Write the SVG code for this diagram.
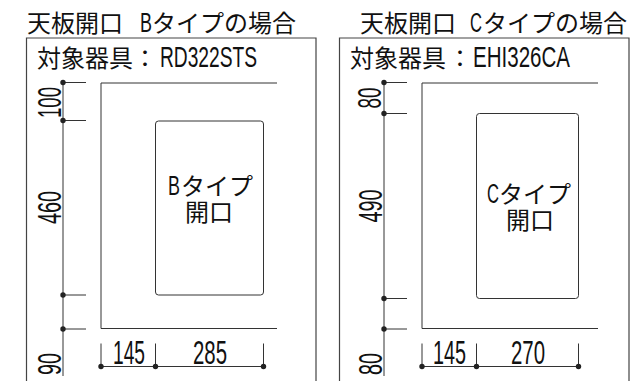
<svg xmlns="http://www.w3.org/2000/svg" width="635" height="381" viewBox="0 0 635 381">
<style>
.l{fill:none;stroke:#333;stroke-width:1}
.f{fill:none;stroke:#444;stroke-width:1.2}
.d{fill:#222;stroke:none}
text{fill:#111;font-family:"Noto Sans CJK JP","Liberation Sans",sans-serif;font-size:24px;font-weight:400}
.n{font-family:"Liberation Sans",sans-serif;font-size:34px;font-weight:400}
.a{font-family:"Liberation Sans",sans-serif;font-weight:400;font-size:27px}
.m{font-size:30px}
</style>
<rect width="635" height="381" fill="#fff"/>
<defs><circle id="dot" class="d" r="2.7"/></defs>
<g id="panel-b">
<text x="27" y="32" id="title-b">天板開口 <tspan class="a" x="140" y="32" textLength="12" lengthAdjust="spacingAndGlyphs">B</tspan><tspan x="152" y="32">タイプの場合</tspan></text>
<path class="f" d="M26.5 381V38H316V381"/>
<text x="37" y="67" id="device-b">対象器具<tspan x="133" y="67">：</tspan><tspan class="a m" x="160" y="67" textLength="97" lengthAdjust="spacingAndGlyphs">RD322STS</tspan></text>
</g>
<g id="outer-b"><path class="l" d="M277 83H101V328.5H277"/></g>
<g id="inner-b"><rect class="l" x="155.5" y="121" width="108" height="174" rx="3"/>
<text x="168" y="195"><tspan class="a" x="168" y="195" textLength="12" lengthAdjust="spacingAndGlyphs">B</tspan><tspan x="181" y="195">タイプ</tspan></text>
<text x="185" y="221">開口</text></g>
<g id="dims-b">
<path class="l" d="M63 82.5V376M63 82.5H86M63 120.5H86M63 295H86M63 329H86M101 343.5V366.5M155.5 343.5V366.5M263.5 343.5V366.5M101 366.5H263.5"/>
<use href="#dot" x="63" y="82.5"/><use href="#dot" x="63" y="120.5"/><use href="#dot" x="63" y="295"/><use href="#dot" x="63" y="329"/>
<use href="#dot" x="101" y="366.5"/><use href="#dot" x="155.5" y="366.5"/><use href="#dot" x="263.5" y="366.5"/>
<text class="n" x="113" y="364" textLength="32" lengthAdjust="spacingAndGlyphs">145</text>
<text class="n" x="193" y="364" textLength="34" lengthAdjust="spacingAndGlyphs">285</text>
<text class="n" transform="translate(61 118) rotate(-90)" textLength="31" lengthAdjust="spacingAndGlyphs">100</text>
<text class="n" transform="translate(61 224) rotate(-90)" textLength="33" lengthAdjust="spacingAndGlyphs">460</text>
<text class="n" transform="translate(61 375) rotate(-90)" textLength="22" lengthAdjust="spacingAndGlyphs">90</text>
</g>
<g id="panel-c">
<text x="360" y="32" id="title-c">天板開口 <tspan class="a" x="470" y="32" textLength="12" lengthAdjust="spacingAndGlyphs">C</tspan><tspan x="483" y="32">タイプの場合</tspan></text>
<path class="f" d="M339.5 381V38H629V381"/>
<text x="350" y="67" id="device-c">対象器具<tspan x="448" y="67">：</tspan><tspan class="a m" x="473" y="67" textLength="97" lengthAdjust="spacingAndGlyphs">EHI326CA</tspan></text>
</g>
<g id="outer-c"><path class="l" d="M598 83H422V328.5H598"/></g>
<g id="inner-c"><rect class="l" x="476.5" y="113.5" width="102" height="185" rx="3"/>
<text x="487" y="203"><tspan class="a" x="487" y="203" textLength="12" lengthAdjust="spacingAndGlyphs">C</tspan><tspan x="499" y="203">タイプ</tspan></text>
<text x="506" y="229">開口</text></g>
<g id="dims-c">
<path class="l" d="M384 82.5V376M384 82.5H407M384 113.5H407M384 298.5H407M384 329H407M422 343.5V366.5M476.5 343.5V366.5M578.5 343.5V366.5M422 366.5H578.5"/>
<use href="#dot" x="384" y="82.5"/><use href="#dot" x="384" y="113.5"/><use href="#dot" x="384" y="298.5"/><use href="#dot" x="384" y="329"/>
<use href="#dot" x="422" y="366.5"/><use href="#dot" x="476.5" y="366.5"/><use href="#dot" x="578.5" y="366.5"/>
<text class="n" x="433" y="364" textLength="33" lengthAdjust="spacingAndGlyphs">145</text>
<text class="n" x="511" y="364" textLength="34" lengthAdjust="spacingAndGlyphs">270</text>
<text class="n" transform="translate(381 108.5) rotate(-90)" textLength="21" lengthAdjust="spacingAndGlyphs">80</text>
<text class="n" transform="translate(382 222.5) rotate(-90)" textLength="33" lengthAdjust="spacingAndGlyphs">490</text>
<text class="n" transform="translate(382 375) rotate(-90)" textLength="22" lengthAdjust="spacingAndGlyphs">80</text>
</g>
</svg>
